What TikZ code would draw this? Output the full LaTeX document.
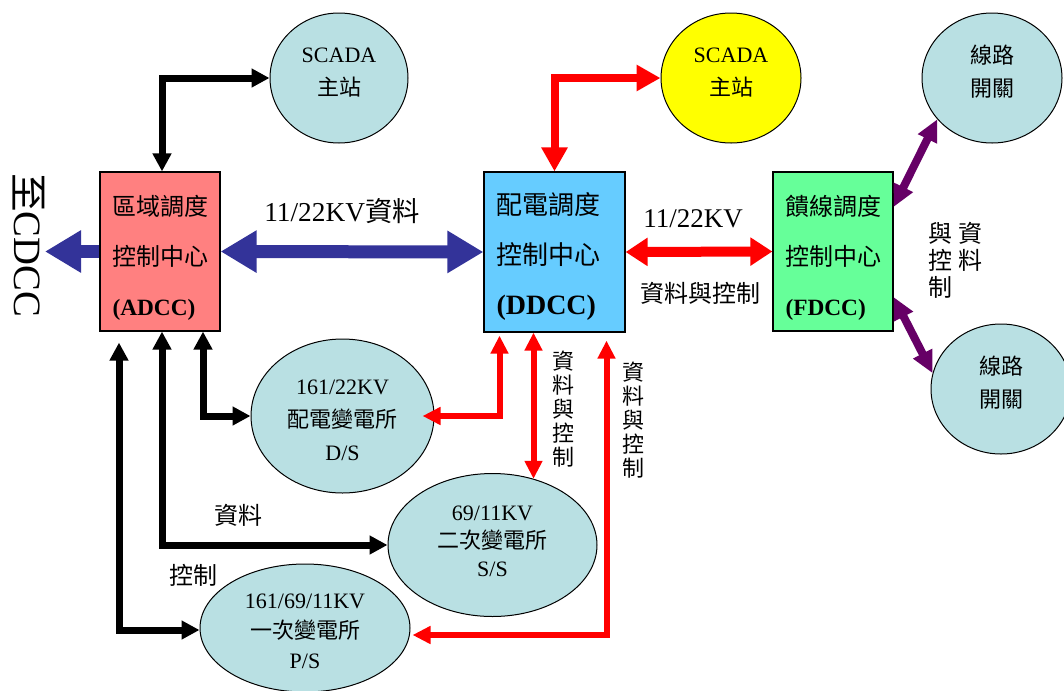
\documentclass[tikz,border=0pt]{standalone}
\usepackage{fontspec}
\setmainfont{Liberation Serif}
\newfontfamily\cjk{Noto Sans CJK TC}
\usetikzlibrary{arrows.meta,shapes.geometric,calc}

\definecolor{adccred}{HTML}{FF8080}
\definecolor{ddccblue}{HTML}{66CCFF}
\definecolor{fdccgreen}{HTML}{66FF99}
\definecolor{bubfill}{HTML}{B9E0E3}
\definecolor{scadayellow}{HTML}{FFFF00}
\definecolor{linkblue}{HTML}{333399}
\definecolor{linkpurple}{HTML}{660066}
\definecolor{linkred}{HTML}{FF0000}

\tikzset{
  ctrbox/.style={draw=black, line width=0.9pt, minimum width=90pt,
    minimum height=119.25pt, inner sep=0pt},
  ctrtext/.style={align=left, inner sep=0pt,
    font=\fontsize{18}{37.5}\selectfont},
  bub/.style={ellipse, draw=black, line width=0.75pt, fill=bubfill,
    inner sep=0pt, align=center},
  bubtext/.style={font=\fontsize{16.5}{24.75}\selectfont},
  lbl/.style={inner sep=0pt, font=\cjk\fontsize{18}{20.25}\selectfont},
  vlbl/.style={inner sep=0pt, align=center,
    font=\cjk\fontsize{16.5}{18}\selectfont},
  blkarrow/.style={draw=black, line width=5.25pt,
    arrows={Triangle[width=13.5pt,length=13.5pt]-Triangle[width=13.5pt,length=13.5pt]}},
  redthin/.style={draw=linkred, line width=4.5pt,
    arrows={Triangle[width=12.75pt,length=13.5pt]-Triangle[width=12.75pt,length=13.5pt]}},
  redtop/.style={draw=linkred, line width=6pt,
    arrows={Triangle[width=18.75pt,length=18pt]-Triangle[width=18.75pt,length=18pt]}},
  redwide/.style={draw=linkred, line width=7.5pt,
    arrows={Triangle[width=20.25pt,length=16.5pt]-Triangle[width=20.25pt,length=16.5pt]}},
  bluefat/.style={draw=linkblue, line width=9.75pt},
  bluehead/.style={arrows={-Triangle[width=30pt,length=27pt]}},
  purplink/.style={draw=linkpurple, line width=6pt,
    arrows={Triangle[width=15pt,length=16.5pt]-Triangle[width=15pt,length=16.5pt]}},
}

\begin{document}
\begin{tikzpicture}[x=0.75pt,y=-0.75pt]
\useasboundingbox (0,0) rectangle (1064,690);
\clip (0,0) rectangle (1064,690);

% control centres
\node[ctrbox, fill=adccred]   (adcc) at (160,251.5) {};
\node[ctrbox, fill=ddccblue, minimum width=105.75pt, minimum height=120pt] (ddcc) at (554.5,252) {};
\node[ctrbox, fill=fdccgreen] (fdcc) at (833,251.5) {};

\node[ctrtext] (adccTxt) at (160.5,258) {{\cjk 區域調度}\\{\cjk 控制中心}\\{\fontsize{17.5}{20}\selectfont\bfseries (ADCC)}};
\node[ctrtext, font=\fontsize{19.5}{37.5}\selectfont] (ddccTxt) at (548.5,256) {{\cjk 配電調度}\\{\cjk 控制中心}\\{\fontsize{21}{24}\selectfont\bfseries (DDCC)}};
\node[ctrtext] (fdccTxt) at (833.5,258) {{\cjk 饋線調度}\\{\cjk 控制中心}\\{\fontsize{17.5}{20}\selectfont\bfseries (FDCC)}};

% SCADA master stations and line switches
\node[bub, bubtext, text depth=8.8pt, minimum width=103.5pt, minimum height=97.5pt] (scadaA) at (339,78) {SCADA\\{\cjk 主站}};
\node[bub, bubtext, text depth=8.8pt, fill=scadayellow, minimum width=105pt, minimum height=97.5pt] (scadaD) at (731,78) {SCADA\\{\cjk 主站}};
\node[bub, bubtext, text depth=11pt, minimum width=105pt, minimum height=97.5pt] (swTop) at (992,78) {{\cjk 線路}\\{\cjk 開關}};
\node[bub, bubtext, text depth=11pt, minimum width=105pt, minimum height=97.5pt] (swBot) at (1001,389) {{\cjk 線路}\\{\cjk 開關}};

% substations
\node[bub, bubtext, text height=66.7pt, minimum width=137.25pt, minimum height=115.5pt] (ds) at (342.5,416) {161/22KV\\{\cjk 配電變電所}\\D/S};
\node[bub, font=\fontsize{16.5}{21}\selectfont, text depth=6.3pt, minimum width=156.75pt, minimum height=107.25pt] (ss) at (492.5,545) {69/11KV\\{\cjk 二次變電所}\\S/S};
\node[bub, font=\fontsize{16.5}{22.5}\selectfont, text height=60.7pt, minimum width=157.5pt, minimum height=96pt] (ps) at (305,628) {161/69/11KV\\{\cjk 一次變電所}\\P/S};

% outgoing link to CDCC
\coordinate (cdcc) at (45,251.5);
\node[rotate=-90, inner sep=0pt, font=\fontsize{29}{30}\selectfont] (cdccTxt) at (29,245) {{\cjk 至}CDCC};
\draw[bluefat, bluehead] (adcc.west) -- (cdcc);

% links between the control centres
\draw[bluefat, arrows={Triangle[width=30pt,length=27pt]-Triangle[width=30pt,length=27pt]}] (adcc.east) -- (ddcc.west);
\draw[redwide] (ddcc.east) -- (fdcc.west);
\node[inner sep=0pt, font=\fontsize{20.5}{22}\selectfont] (lblAD) at (342,211) {11/22KV{\cjk 資料}};
\node[inner sep=0pt, font=\fontsize{20.25}{22}\selectfont] (lblDF) at (693,219) {11/22KV};
\node[lbl] (lblDFb) at (700,293) {資料與控制};

% links to the SCADA stations
\draw[blkarrow] (scadaA.west) -| ([xshift=1.5pt]adcc.north);
\draw[redtop] (scadaD.west) -| (ddcc.north);

% ADCC to the substations
\draw[blkarrow] ([shift={(43,0)}]adcc.south) |- (ds.west);
\draw[blkarrow] ([shift={(2,0)}]adcc.south) |- (ss.west);
\draw[blkarrow] ([shift={(-41,11)}]adcc.south) |- ([shift={(0,2)}]ps.west);
\node[lbl] (lblData) at (238,515) {資料};
\node[lbl] (lblCtrl) at (193,575) {控制};

% DDCC to the substations
\draw[redthin] ([shift={(-55,3)}]ddcc.south) |- ([shift={(-12,0)}]ds.east);
\draw[redthin] ([shift={(-21,0)}]ddcc.south) -- ([shift={(-21,0)}]ddcc.south |- ss.58);
\draw[redthin] ([shift={(52,8)}]ddcc.south) |- ([shift={(2,7)}]ps.east);
\node[vlbl] (vlblA) at (563,409) {資\\料\\與\\控\\制};
\node[vlbl] (vlblB) at (633,420) {資\\料\\與\\控\\制};

% FDCC to the line switches
\draw[purplink] ([shift={(0,-44.5)}]fdcc.east) -- (swTop.217);
\draw[purplink] ([shift={(0,45.5)}]fdcc.east) -- (swBot.167);
\node[lbl, align=center] (fdccLblA) at (970,246.5) {資\\料};
\node[lbl, align=center] (fdccLblB) at (940,260) {與\\控\\制};
\end{tikzpicture}
\end{document}
